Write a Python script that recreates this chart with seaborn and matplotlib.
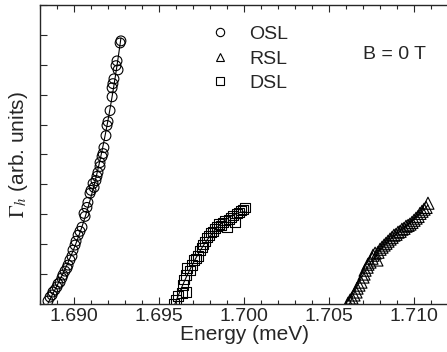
import numpy as np
import pandas as pd
import seaborn as sns
import matplotlib.pyplot as plt
from matplotlib.lines import Line2D
from matplotlib.ticker import MultipleLocator, NullFormatter

sns.set_style('ticks')
plt.rcParams['font.family'] = ['Liberation Sans', 'DejaVu Sans']
plt.rcParams['mathtext.fontset'] = 'stix'

# OSL data (circles)
osl_energy = [1.68847, 1.68859, 1.68871, 1.68876, 1.68888, 1.68900, 1.68906, 1.68918, 1.68929, 1.68935,
              1.68947, 1.68959, 1.68965, 1.68976, 1.68988, 1.68994, 1.69006, 1.69012, 1.69024, 1.69035,
              1.69047, 1.69059, 1.69065, 1.69076, 1.69082, 1.69094, 1.69100, 1.69112, 1.69118, 1.69129,
              1.69135, 1.69141, 1.69153, 1.69153, 1.69165, 1.69171, 1.69176, 1.69188, 1.69194, 1.69200,
              1.69212, 1.69224, 1.69224, 1.69229, 1.69235, 1.69247, 1.69253, 1.69259, 1.69271, 1.69276]
osl_gamma = [0.10, 0.23, 0.30, 0.40, 0.47, 0.57, 0.67, 0.73, 0.87, 0.97,
             1.10, 1.20, 1.30, 1.47, 1.60, 1.80, 1.97, 2.10, 2.30, 2.43,
             2.57, 3.03, 2.93, 3.23, 3.40, 3.70, 3.80, 4.03, 3.90, 4.13,
             4.27, 4.40, 4.60, 4.73, 4.93, 5.03, 5.23, 5.63, 5.97, 6.10,
             6.47, 6.93, 7.23, 7.37, 7.53, 7.97, 8.13, 7.83, 8.73, 8.80]

# DSL data (squares)
dsl_energy = [1.69588, 1.69600, 1.69612, 1.69635, 1.69659, 1.69641, 1.69647, 1.69659, 1.69665, 1.69682,
              1.69694, 1.69706, 1.69718, 1.69729, 1.69741, 1.69753, 1.69759, 1.69771, 1.69782, 1.69794,
              1.69806, 1.69818, 1.69829, 1.69841, 1.69853, 1.69865, 1.69876, 1.69888, 1.69900, 1.69912,
              1.69924, 1.69935, 1.69947, 1.69959, 1.69971, 1.69982, 1.69994, 1.70006]
dsl_gamma = [0.00, 0.13, 0.27, 0.37, 0.40, 0.63, 0.83, 0.97, 1.20, 1.13,
             1.30, 1.47, 1.53, 1.60, 1.80, 1.90, 2.00, 2.10, 2.23, 2.30,
             2.40, 2.43, 2.53, 2.60, 2.67, 2.63, 2.73, 2.80, 2.57, 2.83,
             2.90, 2.97, 2.73, 3.03, 3.07, 3.13, 3.17, 3.23]

# RSL data (triangles)
rsl_energy = [1.70612, 1.70624, 1.70635, 1.70647, 1.70659, 1.70665, 1.70676, 1.70688, 1.70700, 1.70706,
              1.70712, 1.70724, 1.70729, 1.70741, 1.70753, 1.70759, 1.70771, 1.70782, 1.70788, 1.70800,
              1.70812, 1.70824, 1.70835, 1.70847, 1.70859, 1.70871, 1.70882, 1.70894, 1.70906, 1.70918,
              1.70929, 1.70941, 1.70953, 1.70965, 1.70976, 1.70988, 1.71000, 1.71012, 1.71024, 1.71035,
              1.71047, 1.71059, 1.71071, 1.71082]
rsl_gamma = [0.03, 0.13, 0.20, 0.30, 0.40, 0.53, 0.63, 0.73, 0.90, 1.00,
             1.13, 1.23, 1.33, 1.40, 1.53, 1.63, 1.70, 1.47, 1.73, 1.83,
             1.90, 1.97, 2.03, 2.10, 2.17, 2.23, 2.30, 2.33, 2.40, 2.43,
             2.50, 2.53, 2.60, 2.63, 2.67, 2.73, 2.80, 2.87, 2.93, 3.03,
             3.10, 3.17, 3.23, 3.37]

# name: (energy, gamma, marker, marker area, fit degree)
series = {'OSL': (osl_energy, osl_gamma, 'o', 50, 3),
          'RSL': (rsl_energy, rsl_gamma, '^', 75, 3),
          'DSL': (dsl_energy, dsl_gamma, 's', 45, 2)}

fig = plt.figure(figsize=(4.47, 3.52), dpi=100)
ax = fig.add_axes([0.0895, 0.1364, 0.9128, 0.8494])

for name, (e, g, m, s, d) in series.items():
    sns.scatterplot(x=e, y=g, marker=m, s=s, facecolor='none', edgecolor='black',
                    linewidth=0.8, ax=ax)
    # smooth fit through the points
    coef = np.polyfit(e, g, d)
    xs = np.linspace(min(e), max(e), 100)
    sns.lineplot(x=xs, y=np.polyval(coef, xs), color='black', linewidth=0.8, ax=ax)

ax.set_xlim(1.688, 1.712)
ax.set_ylim(0, 10)
ax.xaxis.set_major_locator(MultipleLocator(0.005))
ax.xaxis.set_minor_locator(MultipleLocator(0.001))
ax.xaxis.set_major_formatter(plt.FormatStrFormatter('%.3f'))
ax.yaxis.set_major_locator(MultipleLocator(1))
ax.yaxis.set_major_formatter(NullFormatter())
ax.tick_params(which='both', direction='in', top=True, right=False, width=0.8)
ax.tick_params(which='major', length=5, labelsize=14, pad=3)
ax.tick_params(which='minor', length=3)
for sp in ax.spines.values():
    sp.set_linewidth(1.0)

ax.set_xlabel('Energy (meV)', fontsize=15, labelpad=0)
ax.set_ylabel(r'$\mathrm{\Gamma}_h$ (arb. units)', fontsize=15, labelpad=4)

handles = [Line2D([], [], marker=m, linestyle='none', markersize=6, markerfacecolor='none',
                  markeredgecolor='black', markeredgewidth=0.8, label=name)
           for name, m in [('OSL', 'o'), ('RSL', '^'), ('DSL', 's')]]
ax.legend(handles=handles, frameon=False, fontsize=14, loc='upper left',
          bbox_to_anchor=(0.375, 0.99), handlelength=1.0, handletextpad=1.0,
          labelspacing=0.35)
ax.text(0.87, 0.835, 'B = 0 T', transform=ax.transAxes, fontsize=14, ha='center', va='center')

fig.savefig('out.png', dpi=100)
